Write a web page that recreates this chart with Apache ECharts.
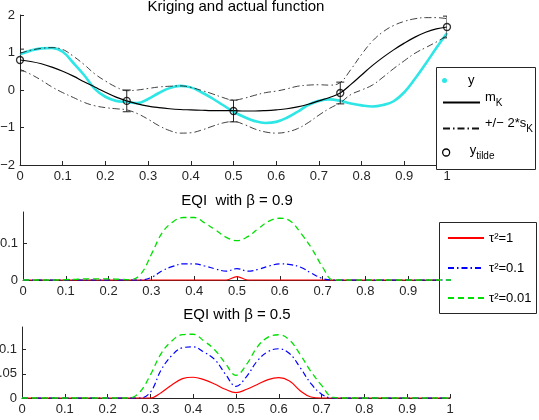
<!DOCTYPE html>
<html>
<head>
<meta charset="utf-8">
<script src="https://cdn.jsdelivr.net/npm/echarts@6/dist/echarts.min.js"></script>
<style>
  html, body { margin: 0; padding: 0; background: #fff; }
  #chart { width: 539px; height: 420px; }
</style>
</head>
<body>
<div id="chart"></div>
<script>
// sample positions shared by all curves
const xs = [0, 0.025, 0.05, 0.075, 0.1, 0.125, 0.15, 0.175, 0.2, 0.225,
  0.25, 0.275, 0.3, 0.325, 0.35, 0.375, 0.4, 0.425, 0.45, 0.475,
  0.5, 0.525, 0.55, 0.575, 0.6, 0.625, 0.65, 0.675, 0.7, 0.725,
  0.75, 0.775, 0.8, 0.825, 0.85, 0.875, 0.9, 0.925, 0.95, 0.975, 1];

// top plot: actual function, kriging mean and +/- 2 sigma band
const yTrue = [0.95, 1.05, 1.11, 1.12, 1.02, 0.72, 0.40, 0.03, -0.18, -0.29,
  -0.32, -0.35, -0.24, -0.08, 0.05, 0.11, 0.07, -0.06, -0.22, -0.40,
  -0.58, -0.72, -0.83, -0.88, -0.85, -0.74, -0.58, -0.40, -0.29, -0.25,
  -0.29, -0.36, -0.41, -0.44, -0.40, -0.30, -0.06, 0.30, 0.70, 1.12, 1.52];
const mK = [0.80, 0.76, 0.70, 0.61, 0.50, 0.37, 0.22, 0.08, -0.06, -0.19,
  -0.29, -0.37, -0.43, -0.47, -0.50, -0.52, -0.53, -0.54, -0.55, -0.55,
  -0.55, -0.56, -0.56, -0.55, -0.53, -0.50, -0.45, -0.38, -0.29, -0.20,
  -0.08, 0.15, 0.40, 0.65, 0.87, 1.07, 1.25, 1.41, 1.54, 1.63, 1.68];
const upper = [0.98, 1.06, 1.11, 1.13, 1.08, 0.90, 0.68, 0.43, 0.24, 0.08,
  -0.02, 0.00, 0.04, 0.08, 0.10, 0.11, 0.07, -0.01, -0.10, -0.20,
  -0.27, -0.22, -0.14, -0.07, -0.03, 0.03, 0.10, 0.13, 0.14, 0.13,
  0.20, 0.55, 0.95, 1.30, 1.55, 1.72, 1.83, 1.90, 1.93, 1.93, 1.90];
const lower = [0.55, 0.42, 0.26, 0.08, -0.07, -0.20, -0.33, -0.42, -0.47, -0.50,
  -0.53, -0.63, -0.78, -0.95, -1.08, -1.15, -1.14, -1.07, -0.97, -0.88,
  -0.84, -0.92, -1.04, -1.12, -1.15, -1.12, -1.03, -0.87, -0.67, -0.49,
  -0.34, -0.12, 0.00, 0.13, 0.34, 0.57, 0.78, 0.98, 1.13, 1.28, 1.45];

// noisy observations with error bars
const obsX = [0, 0.25, 0.5, 0.75, 1];
const obsY = [0.80, -0.29, -0.56, -0.08, 1.68];
const obsErr = [0.29, 0.29, 0.29, 0.29, 0.29];

// EQI, beta = 0.9
const eqi9t1 = [0, 0, 0, 0, 0, 0, 0, 0, 0, 0,
  0, 0, 0, 0, 0, 0, 0, 0, 0, 0,
  0.009, 0, 0, 0, 0, 0, 0, 0, 0, 0,
  0, 0, 0, 0, 0, 0, 0, 0, 0, 0, 0];
const eqi9t01 = [0, 0, 0, 0, 0, 0, 0, 0, 0, 0,
  0, 0, 0.007, 0.025, 0.037, 0.044, 0.044, 0.038, 0.030, 0.024,
  0.031, 0.024, 0.029, 0.038, 0.044, 0.042, 0.034, 0.018, 0.004, 0,
  0, 0, 0, 0, 0, 0, 0, 0, 0, 0, 0];
const eqi9t001 = [0, 0, 0, 0, 0.001, 0.002, 0.003, 0.003, 0.003, 0.002,
  0.001, 0.016, 0.070, 0.128, 0.158, 0.170, 0.170, 0.155, 0.136, 0.116,
  0.107, 0.118, 0.140, 0.160, 0.168, 0.160, 0.126, 0.085, 0.035, 0,
  0, 0, 0, 0, 0, 0, 0, 0, 0, 0, 0];

// EQI, beta = 0.5
const eqi5t1 = [0, 0, 0, 0, 0, 0, 0, 0, 0, 0,
  0, 0, 0, 0.011, 0.027, 0.040, 0.043, 0.038, 0.029, 0.018,
  0.011, 0.018, 0.028, 0.038, 0.042, 0.035, 0.015, 0.002, 0, 0,
  0, 0, 0, 0, 0, 0, 0, 0, 0, 0, 0];
const eqi5t01 = [0, 0, 0, 0, 0, 0, 0, 0, 0, 0,
  0, 0, 0.012, 0.058, 0.088, 0.104, 0.106, 0.095, 0.080, 0.050,
  0.024, 0.045, 0.077, 0.096, 0.102, 0.092, 0.063, 0.030, 0.008, 0,
  0, 0, 0, 0, 0, 0, 0, 0, 0, 0, 0];
const eqi5t001 = [0, 0, 0, 0, 0, 0, 0, 0, 0, 0,
  0, 0.012, 0.048, 0.092, 0.118, 0.131, 0.132, 0.118, 0.100, 0.072,
  0.047, 0.070, 0.106, 0.126, 0.131, 0.120, 0.090, 0.055, 0.026, 0.002,
  0, 0, 0, 0, 0, 0, 0, 0, 0, 0, 0];

const tauNames = ['τ²=1', 'τ²=0.1', 'τ²=0.01'];

const font = 'Liberation Sans';
const ink = '#262626';
const pairs = arr => xs.map((x, i) => [x, arr[i]]);

function xAxisFor(grid) {
    return {
        type: 'value', gridIndex: grid, min: 0, max: 1, interval: 0.1,
        axisLine: { onZero: false, lineStyle: { color: ink, width: 1 } },
        axisTick: { inside: true, length: 4, lineStyle: { color: ink } },
        axisLabel: { color: ink, fontSize: 13, fontFamily: font, margin: 5 },
        splitLine: { show: false }
    };
}

function yAxisFor(grid, extra) {
    return Object.assign({
        type: 'value', gridIndex: grid,
        axisLine: { show: true, onZero: false, lineStyle: { color: ink, width: 1 } },
        axisTick: { inside: true, length: 4, lineStyle: { color: ink } },
        axisLabel: { color: ink, fontSize: 13, fontFamily: font, margin: 5 },
        splitLine: { show: false }
    }, extra);
}

const richStyles = {
    m: { fontSize: 13, fontFamily: font, color: '#000', lineHeight: 14, verticalAlign: 'top' },
    s: { fontSize: 10, fontFamily: font, color: '#000', lineHeight: 17, verticalAlign: 'bottom' },
    p: { fontSize: 13, fontFamily: font, color: '#000', lineHeight: 14 }
};
const legendText = {
    'y': '{p|y}',
    'mK': '{m|m}{s|K}',
    'band': '{m|+/− 2*s}{s|K}',
    'ytilde': '{m|y}{s|tilde}'
};

function topLegend(item, top, itemHeight) {
    return {
        data: [item], left: 442, top: top, padding: 0, orient: 'vertical',
        itemWidth: 37, itemHeight: itemHeight, selectedMode: false,
        itemStyle: { opacity: item === 'mK' || item === 'band' ? 0 : 1 },
        formatter: name => legendText[name],
        textStyle: { fontSize: 13, fontFamily: font, color: '#000', rich: richStyles,
            padding: item === 'mK' || item === 'band' ? [0, 0, 6, 0] : 0 }
    };
}

const titleStyle = { fontSize: 15, fontWeight: 'normal', color: '#000', fontFamily: font };

const bandStyle = { color: '#111', width: 0.8, type: [7, 3, 1.5, 3] };
const tauStyles = [
    { color: '#ff0000', width: 1.2, type: 'solid' },
    { color: '#0000ff', width: 1.2, type: [6, 3, 1.5, 3] },
    { color: '#00e000', width: 1.3, type: [6, 4] }
];

function eqiSeries(grid, arrays) {
    return arrays.map((arr, k) => ({
        name: tauNames[k], type: 'line', xAxisIndex: grid, yAxisIndex: grid,
        data: pairs(arr), smooth: 0.4, symbol: 'none', clip: false,
        lineStyle: tauStyles[k], itemStyle: { color: tauStyles[k].color }, z: 2 + k
    }));
}

const chart = echarts.init(document.getElementById('chart'));
const options = {
    animation: false,
    backgroundColor: '#fff',
    title: [
        { text: 'Kriging and actual function', left: 236, top: -1, textAlign: 'center', padding: 0,
          textStyle: titleStyle },
        { text: 'EQI  with β = 0.9', left: 237, top: 193, textAlign: 'center', padding: 0,
          textStyle: titleStyle },
        { text: 'EQI with β = 0.5', left: 237, top: 307, textAlign: 'center', padding: 0,
          textStyle: titleStyle }
    ],
    grid: [
        { left: 20, top: 15, width: 427, height: 150, outerBoundsMode: 'none', containLabel: false },
        { left: 23, top: 212, width: 428, height: 68, outerBoundsMode: 'none', containLabel: false },
        { left: 22, top: 327, width: 428, height: 71, outerBoundsMode: 'none', containLabel: false }
    ],
    xAxis: [xAxisFor(0), xAxisFor(1), xAxisFor(2)],
    yAxis: [
        yAxisFor(0, { min: -2, max: 2, interval: 1,
            axisLabel: { color: ink, fontSize: 13, fontFamily: font, margin: 5,
                formatter: v => String(v).replace('-', '\u2212') } }),
        yAxisFor(1, { min: 0, max: 0.185,
            axisLabel: { color: ink, fontSize: 13, fontFamily: font, margin: 5, customValues: [0, 0.1] },
            axisTick: { inside: true, length: 4, lineStyle: { color: ink }, customValues: [0, 0.1] } }),
        yAxisFor(2, { min: 0, max: 0.147,
            axisLabel: { color: ink, fontSize: 13, fontFamily: font, margin: 5, customValues: [0, 0.05, 0.1] },
            axisTick: { inside: true, length: 4, lineStyle: { color: ink }, customValues: [0, 0.05, 0.1] } })
    ],
    graphic: [
        { type: 'rect', z: 3, shape: { x: 436.5, y: 67.5, width: 99, height: 102 },
          style: { fill: '#fff', stroke: ink, lineWidth: 1 } },
        { type: 'rect', z: 3, shape: { x: 439.5, y: 222.5, width: 97, height: 91 },
          style: { fill: '#fff', stroke: ink, lineWidth: 1 } }
    ],
    legend: [
        topLegend({ name: 'y', icon: 'circle' }, 74, 5),
        topLegend('mK', 91, 14),
        topLegend('band', 117, 14),
        topLegend({ name: 'ytilde', icon: 'circle',
            itemStyle: { color: 'transparent', borderColor: '#000', borderWidth: 1.3 } }, 144, 7),
        {
            data: tauNames, left: 447, top: 231, padding: 0, orient: 'vertical',
            itemWidth: 36, itemHeight: 14, itemGap: 16, selectedMode: false,
            itemStyle: { opacity: 0 },
            textStyle: { fontSize: 13, fontFamily: font, color: '#000', lineHeight: 14 }
        }
    ],
    series: [
        {
            name: 'y', type: 'line', data: pairs(yTrue), smooth: 0.4, symbol: 'none',
            lineStyle: { color: '#2ee6e6', width: 2.6 }, itemStyle: { color: '#2ee6e6' }, z: 2
        },
        {
            name: 'mK', type: 'line', data: pairs(mK), smooth: 0.4, symbol: 'none',
            lineStyle: { color: '#000', width: 1.2 }, itemStyle: { color: '#000' }, z: 3
        },
        {
            name: 'band', type: 'line', data: pairs(upper), smooth: 0.4, symbol: 'none',
            lineStyle: bandStyle, itemStyle: { color: '#111' }, z: 3
        },
        {
            name: 'band', type: 'line', data: pairs(lower), smooth: 0.4, symbol: 'none',
            lineStyle: bandStyle, itemStyle: { color: '#111' }, z: 3
        },
        {
            name: 'errorbar', type: 'custom', clip: true, z: 4,
            data: obsX.map((x, i) => [x, obsY[i] - obsErr[i], obsY[i] + obsErr[i]]),
            renderItem: function (params, api) {
                const lo = api.coord([api.value(0), api.value(1)]);
                const hi = api.coord([api.value(0), api.value(2)]);
                const w = 4;
                const st = { stroke: '#222', lineWidth: 1 };
                return {
                    type: 'group',
                    children: [
                        { type: 'line', shape: { x1: lo[0], y1: lo[1], x2: hi[0], y2: hi[1] }, style: st },
                        { type: 'line', shape: { x1: lo[0] - w, y1: lo[1], x2: lo[0] + w, y2: lo[1] }, style: st },
                        { type: 'line', shape: { x1: hi[0] - w, y1: hi[1], x2: hi[0] + w, y2: hi[1] }, style: st }
                    ]
                };
            }
        },
        {
            name: 'ytilde', type: 'scatter', data: obsX.map((x, i) => [x, obsY[i]]),
            symbol: 'circle', symbolSize: 7, clip: false, z: 5,
            itemStyle: { color: 'transparent', borderColor: '#000', borderWidth: 1.3 }
        }
    ]
        .concat(eqiSeries(1, [eqi9t1, eqi9t01, eqi9t001]))
        .concat(eqiSeries(2, [eqi5t1, eqi5t01, eqi5t001]))
};

chart.setOption(options);
</script>
</body>
</html>
